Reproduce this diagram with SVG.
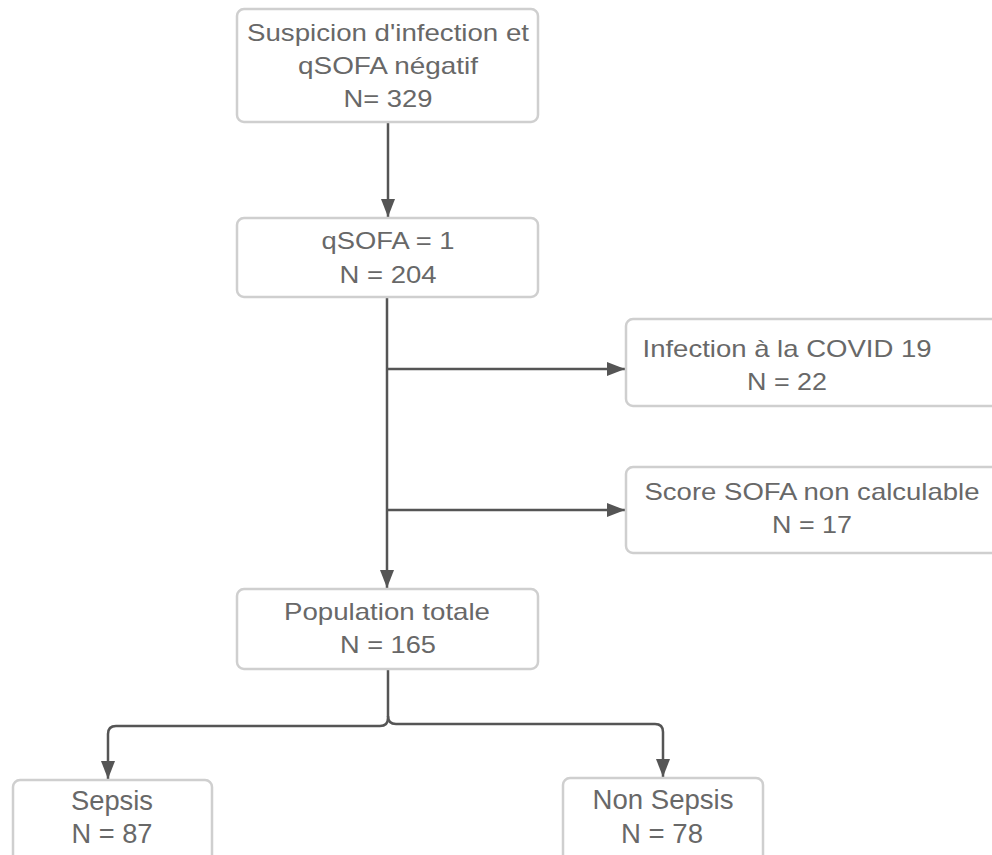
<svg xmlns="http://www.w3.org/2000/svg" width="992" height="855" viewBox="0 0 992 855">
<style>
.box{fill:#ffffff;stroke:#cfcfcf;stroke-width:2.5}
.t{font-family:"Liberation Sans",Arial,sans-serif;font-size:24px;fill:#686868;text-anchor:middle}
.tb{font-family:"Liberation Sans",Arial,sans-serif;font-size:27px;fill:#686868;text-anchor:middle}
.c{fill:none;stroke:#555555;stroke-width:2.5}
</style>
<defs>
<marker id="ah" viewBox="0 0 18 14" refX="18" refY="7" markerWidth="18" markerHeight="14" markerUnits="userSpaceOnUse" orient="auto">
<path d="M0,0 L18,7 L0,14 Z" fill="#555555"/>
</marker>
</defs>
<rect width="992" height="855" fill="#ffffff"/>
<g id="connectors">
<path class="c" d="M388,123 V217" marker-end="url(#ah)"/>
<path class="c" d="M387,298 V588" marker-end="url(#ah)"/>
<path class="c" d="M387,369 H625" marker-end="url(#ah)"/>
<path class="c" d="M387,510 H625" marker-end="url(#ah)"/>
<path class="c" d="M388,669 V718 Q388,726 380,726 H116 Q108,726 108,734 V779" marker-end="url(#ah)"/>
<path class="c" d="M388,716 Q388,724 396,724 H655 Q663,724 663,732 V777" marker-end="url(#ah)"/>
</g>
<g id="n1">
<rect class="box" x="237" y="9" width="301" height="113" rx="7"/>
<text class="t" x="388" y="41" textLength="282" lengthAdjust="spacingAndGlyphs">Suspicion d'infection et</text>
<text class="t" x="388" y="74" textLength="180" lengthAdjust="spacingAndGlyphs">qSOFA négatif</text>
<text class="t" x="388" y="107" textLength="89" lengthAdjust="spacingAndGlyphs">N= 329</text>
</g>
<g id="n2">
<rect class="box" x="237" y="218" width="301" height="79" rx="7"/>
<text class="t" x="388" y="249" textLength="133" lengthAdjust="spacingAndGlyphs">qSOFA = 1</text>
<text class="t" x="388" y="283" textLength="97" lengthAdjust="spacingAndGlyphs">N = 204</text>
</g>
<g id="n3">
<rect class="box" x="626" y="319" width="372" height="87" rx="7"/>
<text class="t" x="787" y="357" textLength="289" lengthAdjust="spacingAndGlyphs">Infection à la COVID 19</text>
<text class="t" x="787" y="390" textLength="80" lengthAdjust="spacingAndGlyphs">N = 22</text>
</g>
<g id="n4">
<rect class="box" x="626" y="467" width="372" height="86" rx="7"/>
<text class="t" x="812" y="500" textLength="335" lengthAdjust="spacingAndGlyphs">Score SOFA non calculable</text>
<text class="t" x="812" y="533" textLength="80" lengthAdjust="spacingAndGlyphs">N = 17</text>
</g>
<g id="n5">
<rect class="box" x="237" y="589" width="301" height="80" rx="7"/>
<text class="t" x="387" y="620" textLength="206" lengthAdjust="spacingAndGlyphs">Population totale</text>
<text class="t" x="388" y="653" textLength="96" lengthAdjust="spacingAndGlyphs">N = 165</text>
</g>
<g id="n6">
<rect class="box" x="13" y="780" width="199" height="100" rx="7"/>
<text class="tb" x="112" y="810" textLength="82" lengthAdjust="spacingAndGlyphs">Sepsis</text>
<text class="tb" x="112" y="843" textLength="81" lengthAdjust="spacingAndGlyphs">N = 87</text>
</g>
<g id="n7">
<rect class="box" x="563" y="778" width="200" height="100" rx="7"/>
<text class="tb" x="663" y="809" textLength="141" lengthAdjust="spacingAndGlyphs">Non Sepsis</text>
<text class="tb" x="662" y="843" textLength="82" lengthAdjust="spacingAndGlyphs">N = 78</text>
</g>
</svg>
